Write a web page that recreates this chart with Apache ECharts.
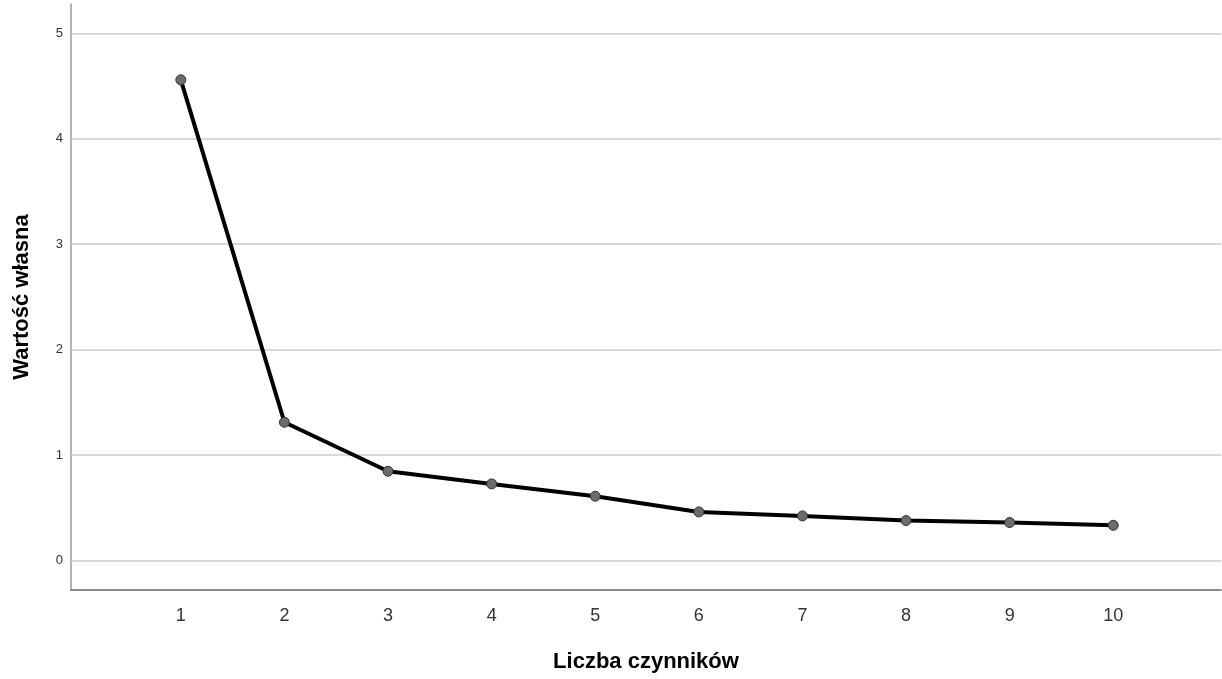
<!DOCTYPE html>
<html>
<head>
<meta charset="utf-8">
<script src="https://cdn.jsdelivr.net/npm/echarts@6/dist/echarts.min.js"></script>
<style>html,body{margin:0;padding:0;background:#fff;}#c{width:1222px;height:679px;}</style>
</head>
<body>
<div id="c"></div>
<script>
const factors = [1, 2, 3, 4, 5, 6, 7, 8, 9, 10];
const eigenvalues = [4.56, 1.31, 0.845, 0.725, 0.608, 0.459, 0.421, 0.377, 0.358, 0.332];
const yTicks = [0, 1, 2, 3, 4, 5];
const xTicks = [1, 2, 3, 4, 5, 6, 7, 8, 9, 10];
const xTitle = 'Liczba czynników';
const yTitle = 'Wartość własna';

const chart = echarts.init(document.getElementById('c'), null, {renderer: 'canvas'});
const FONT = '"Liberation Sans", Arial, sans-serif';
chart.setOption({
  animation: false,
  backgroundColor: '#ffffff',
  textStyle: {fontFamily: FONT},
  grid: {left: 71, right: 1, top: 4, bottom: 89, containLabel: false},
  xAxis: {
    type: 'value',
    min: -0.06, max: 11.04,
    name: xTitle,
    nameLocation: 'middle',
    nameGap: 61,
    nameTextStyle: {fontSize: 22, fontWeight: 'bold', color: '#000', fontFamily: FONT},
    axisLine: {show: true, onZero: false, lineStyle: {color: '#666', width: 1.5}},
    axisTick: {show: false, customValues: xTicks},
    axisLabel: {customValues: xTicks, fontSize: 18, color: '#333', margin: 17, fontFamily: FONT},
    splitLine: {show: false}
  },
  yAxis: {
    type: 'value',
    min: -0.282, max: 5.28,
    name: yTitle,
    nameLocation: 'middle',
    nameGap: 38,
    nameRotate: 90,
    nameTextStyle: {fontSize: 22, fontWeight: 'bold', color: '#000', fontFamily: FONT},
    axisLine: {show: true, onZero: false, lineStyle: {color: '#999', width: 1.5}},
    axisTick: {show: false, customValues: yTicks},
    axisLabel: {customValues: yTicks, fontSize: 13, color: '#333', margin: 8, fontFamily: FONT},
    splitLine: {show: false}
  },
  series: [{
    type: 'line',
    data: factors.map((f, i) => [f, eigenvalues[i]]),
    lineStyle: {color: '#000', width: 4},
    symbol: 'circle',
    symbolSize: 10,
    itemStyle: {color: '#6b6b6b', borderColor: '#333', borderWidth: 1},
    z: 5,
    markLine: {
      silent: true,
      symbol: 'none',
      label: {show: false},
      lineStyle: {color: '#cccccc', width: 1.5, type: 'solid'},
      emphasis: {disabled: true},
      data: yTicks.map(v => ({yAxis: v})),
      z: 1
    }
  }]
});
</script>
</body>
</html>
